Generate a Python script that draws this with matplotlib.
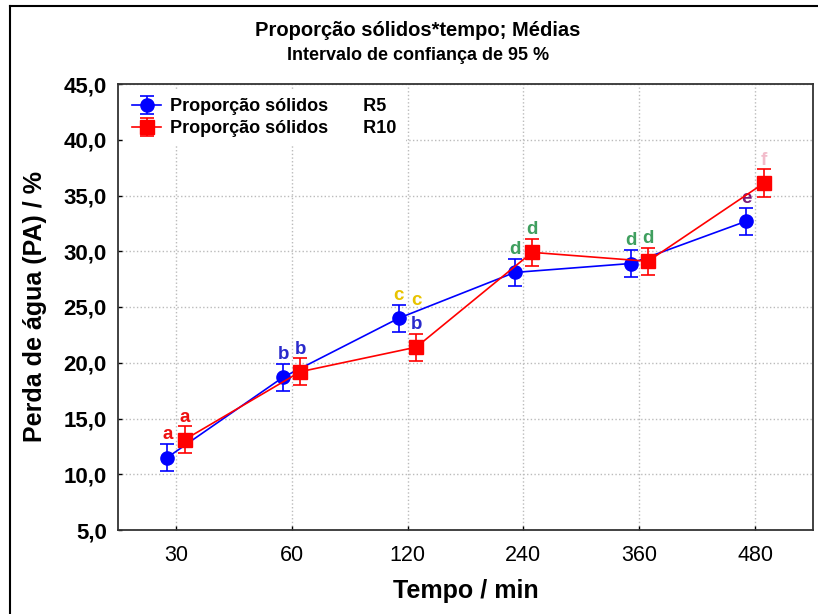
import numpy as np
import matplotlib.pyplot as plt
from matplotlib.lines import Line2D

plt.rcParams['font.family'] = ['Liberation Sans', 'DejaVu Sans']

tempo = ["30", "60", "120", "240", "360", "480"]
r5 = [11.5, 18.7, 24.0, 28.1, 28.9, 32.7]
r5_err = [1.2, 1.2, 1.2, 1.2, 1.2, 1.2]
r10 = [13.1, 19.2, 21.4, 29.9, 29.1, 36.1]
r10_err = [1.2, 1.2, 1.2, 1.2, 1.2, 1.25]
r5_letters = [["a"], ["b"], ["c"], ["d"], ["d"], ["e"]]
r10_letters = [["a"], ["b"], ["b", "c"], ["d"], ["d"], ["f"]]

letter_colors = {"a": "#ee1111", "b": "#2a2acc", "c": "#e8c300",
                 "d": "#3f9f5f", "e": "#7a1a78", "f": "#f2bccb"}

fig = plt.figure(figsize=(8.18, 6.14), dpi=100)
ax = fig.add_axes([118 / 818, 84 / 614, 695 / 818, 446 / 614])

x = np.arange(len(tempo))
dx = 0.075

eb5 = ax.errorbar(x - dx, r5, yerr=r5_err, color='blue', marker='o', markersize=9.5,
                  lw=1.2, capsize=5, elinewidth=1.2, capthick=1.2, zorder=3)
eb10 = ax.errorbar(x + dx, r10, yerr=r10_err, color='red', marker='s', markersize=9.5,
                   lw=1.2, capsize=5, elinewidth=1.2, capthick=1.2, zorder=3)

for xs, vals, errs, letters in [(x - dx, r5, r5_err, r5_letters),
                                (x + dx, r10, r10_err, r10_letters)]:
    for xi, v, e, ls in zip(xs, vals, errs, letters):
        for k, l in enumerate(ls):
            ax.annotate(l, (xi, v + e), xytext=(0, 0.5 + 17 * k),
                        textcoords='offset points', ha='center', va='bottom',
                        color=letter_colors[l], fontsize=13.5, fontweight='bold')

ax.set_xlim(-0.5, 5.5)
ax.set_ylim(5, 45)
ax.set_xticks(x)
ax.set_xticklabels(tempo, fontsize=15.5)
yt = np.arange(5, 46, 5)
ax.set_yticks(yt)
ax.set_yticklabels([f"{v:.1f}".replace(".", ",") for v in yt],
                   fontsize=16, fontweight='bold')
ax.tick_params(direction='in', length=3, width=1)
ax.tick_params(axis='x', pad=11)
ax.tick_params(axis='y', pad=8)
ax.grid(True, linestyle=':', color='#bbbbbb', lw=1)
for s in ax.spines.values():
    s.set_color('#333333')
    s.set_linewidth(1.3)

ax.set_xlabel("Tempo / min", fontsize=18, fontweight='bold', labelpad=9)
ax.set_ylabel("Perda de água (PA) / %", fontsize=18, fontweight='bold', labelpad=12)

fig.text(418 / 818, 1 - 30 / 614, "Proporção sólidos*tempo; Médias", ha='center',
         va='center', fontsize=14.5, fontweight='bold')
fig.text(418 / 818, 1 - 55 / 614, "Intervalo de confiança de 95 %", ha='center',
         va='center', fontsize=13, fontweight='bold')

leg = ax.legend([eb5, eb10],
                ["Proporção sólidos       R5", "Proporção sólidos       R10"],
                loc='upper left', bbox_to_anchor=(0.0, 1.0), frameon=True,
                edgecolor='none', facecolor='white', framealpha=1,
                fontsize=13, handlelength=1.6, borderaxespad=0.3,
                labelspacing=0.25, handletextpad=0.5, borderpad=0.5)
for t in leg.get_texts():
    t.set_fontweight('bold')

# outer frame lines (top and left visible)
fig.add_artist(Line2D([10 / 818, 10 / 818], [0, 1 - 6 / 614], color='black',
                      lw=1.5, transform=fig.transFigure))
fig.add_artist(Line2D([10 / 818, 1], [1 - 6 / 614, 1 - 6 / 614], color='black',
                      lw=1.5, transform=fig.transFigure))

fig.savefig("out.png", dpi=100)
